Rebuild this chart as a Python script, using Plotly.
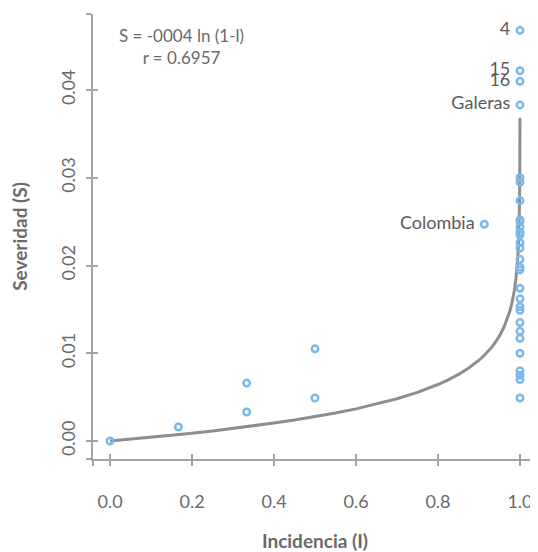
import plotly.graph_objects as go

# Observed points (Incidencia I, Severidad S)
low_I = [0.0, 0.1667, 0.3333, 0.3333, 0.5, 0.5]
low_S = [0.0, 0.0016, 0.0066, 0.0033, 0.0105, 0.0049]

full_S = [0.0300, 0.0295, 0.0274, 0.0252, 0.0250, 0.0244, 0.0238, 0.0235,
          0.0226, 0.0220, 0.0207, 0.0198, 0.0195, 0.0174, 0.0162, 0.0153,
          0.0149, 0.0135, 0.0125, 0.0117, 0.0100, 0.0080, 0.0075, 0.0070,
          0.0049]
full_I = [1.0] * len(full_S)

lab_names = ["4", "15", "16", "Galeras", "Colombia"]
lab_I = [1.0, 1.0, 1.0, 1.0, 0.913]
lab_S = [0.0468, 0.0422, 0.0410, 0.0383, 0.0247]

# Fitted curve S = -0.004 ln(1-I)
curve_I = [0.0, 0.05, 0.1, 0.15, 0.2, 0.25, 0.3, 0.35, 0.4, 0.45, 0.5, 0.55,
           0.6, 0.65, 0.7, 0.75, 0.775, 0.8, 0.825, 0.85, 0.875, 0.89, 0.9,
           0.91, 0.92, 0.93, 0.94, 0.95, 0.96, 0.97, 0.975, 0.98, 0.985, 0.99,
           0.9925, 0.995, 0.997, 0.998, 0.9985, 0.999, 0.9995, 0.9998, 0.9999]
curve_S = [0.0, 0.000205, 0.000421, 0.000650, 0.000893, 0.001151, 0.001427,
           0.001723, 0.002043, 0.002391, 0.002773, 0.003194, 0.003665,
           0.004199, 0.004816, 0.005545, 0.005967, 0.006438, 0.006972,
           0.007588, 0.008318, 0.008829, 0.009210, 0.009632, 0.010103,
           0.010637, 0.011254, 0.011983, 0.012876, 0.014026, 0.014756,
           0.015648, 0.016799, 0.018421, 0.019572, 0.021193, 0.023237,
           0.024858, 0.026009, 0.027631, 0.030403, 0.034069, 0.036841]

x_ticks = [0.0, 0.2, 0.4, 0.6, 0.8, 1.0]
x_tick_text = ["0.0", "0.2", "0.4", "0.6", "0.8", "1.0"]
y_ticks = [0.0, 0.01, 0.02, 0.03, 0.04]
y_tick_text = ["0.00", "0.01", "0.02", "0.03", "0.04"]

X_RANGE = [-0.0415, 1.0415]
Y_RANGE = [-0.00205, 0.04866]

AXIS_COLOR = "#a3a3a3"
TEXT_COLOR = "#6a6a6a"
BLUE = "#7cb9e8"
FONT = "Lato"

fig = go.Figure()

fig.add_trace(go.Scatter(x=curve_I, y=curve_S, mode="lines",
                         line=dict(color="#8e8e8e", width=3),
                         hoverinfo="skip", showlegend=False))

marker = dict(symbol="circle-open", size=6.5, color=BLUE, line=dict(width=2.5, color=BLUE))

fig.add_trace(go.Scatter(x=low_I + full_I, y=low_S + full_S, mode="markers",
                         marker=marker, showlegend=False))

fig.add_trace(go.Scatter(x=lab_I, y=lab_S, mode="markers+text",
                         text=[n + "\u00a0" for n in lab_names],
                         textposition="middle left",
                         textfont=dict(family=FONT, size=18, color="#5a5a5a"),
                         marker=marker, showlegend=False))

# empty trace so the overlay axes (inner half of crossing ticks) are drawn
fig.add_trace(go.Scatter(x=[None], y=[None], xaxis="x2", yaxis="y2",
                         showlegend=False, hoverinfo="skip"))

x_all = [X_RANGE[0]] + x_ticks + [X_RANGE[1]]
x_all_text = [""] + x_tick_text + [""]
y_all = [Y_RANGE[0]] + y_ticks + [Y_RANGE[1]]
y_all_text = [""] + y_tick_text + [""]

common_tick = dict(tickcolor=AXIS_COLOR, tickwidth=2, ticklen=5)

# the page body has an 8 px default margin, so the figure is 8 px smaller
fig.update_layout(
    width=530, height=544,
    margin=dict(l=85, r=1, t=6, b=93),
    paper_bgcolor="white", plot_bgcolor="white",
    font=dict(family=FONT, color=TEXT_COLOR),
    xaxis=dict(range=X_RANGE, tickmode="array", tickvals=x_all, ticktext=x_all_text,
               ticks="outside", showline=True, linecolor=AXIS_COLOR, linewidth=2,
               showgrid=False, zeroline=False, ticklabelstandoff=20, automargin=False,
               tickfont=dict(family=FONT, size=18, color=TEXT_COLOR),
               title=dict(text="<b>Incidencia (I)</b>", standoff=30,
                          font=dict(family=FONT, size=19, color=TEXT_COLOR)),
               **common_tick),
    yaxis=dict(range=Y_RANGE, tickmode="array", tickvals=y_all, ticktext=y_all_text,
               ticks="outside", showline=True, linecolor=AXIS_COLOR, linewidth=2,
               showgrid=False, zeroline=False, tickangle=-90, ticklabelstandoff=4,
               automargin=False,
               tickfont=dict(family=FONT, size=18, color=TEXT_COLOR),
               title=dict(text="<b>Severidad (S)</b>", standoff=26,
                          font=dict(family=FONT, size=19, color=TEXT_COLOR)),
               **common_tick),
    xaxis2=dict(range=X_RANGE, overlaying="x", anchor="y", side="bottom",
                tickmode="array", tickvals=x_all, ticks="inside",
                showticklabels=False, showline=False, showgrid=False,
                zeroline=False, automargin=False, **common_tick),
    yaxis2=dict(range=Y_RANGE, overlaying="y", anchor="x", side="left",
                tickmode="array", tickvals=y_all, ticks="inside",
                showticklabels=False, showline=False, showgrid=False,
                zeroline=False, automargin=False, **common_tick),
    annotations=[dict(xref="paper", yref="paper", x=0.2, y=0.926,
                      xanchor="center", yanchor="middle",
                      text="S = -0004 ln (1-l)<br>r = 0.6957", showarrow=False,
                      align="center", font=dict(family=FONT, size=17, color=TEXT_COLOR))],
)

fig.write_html("out.html")
